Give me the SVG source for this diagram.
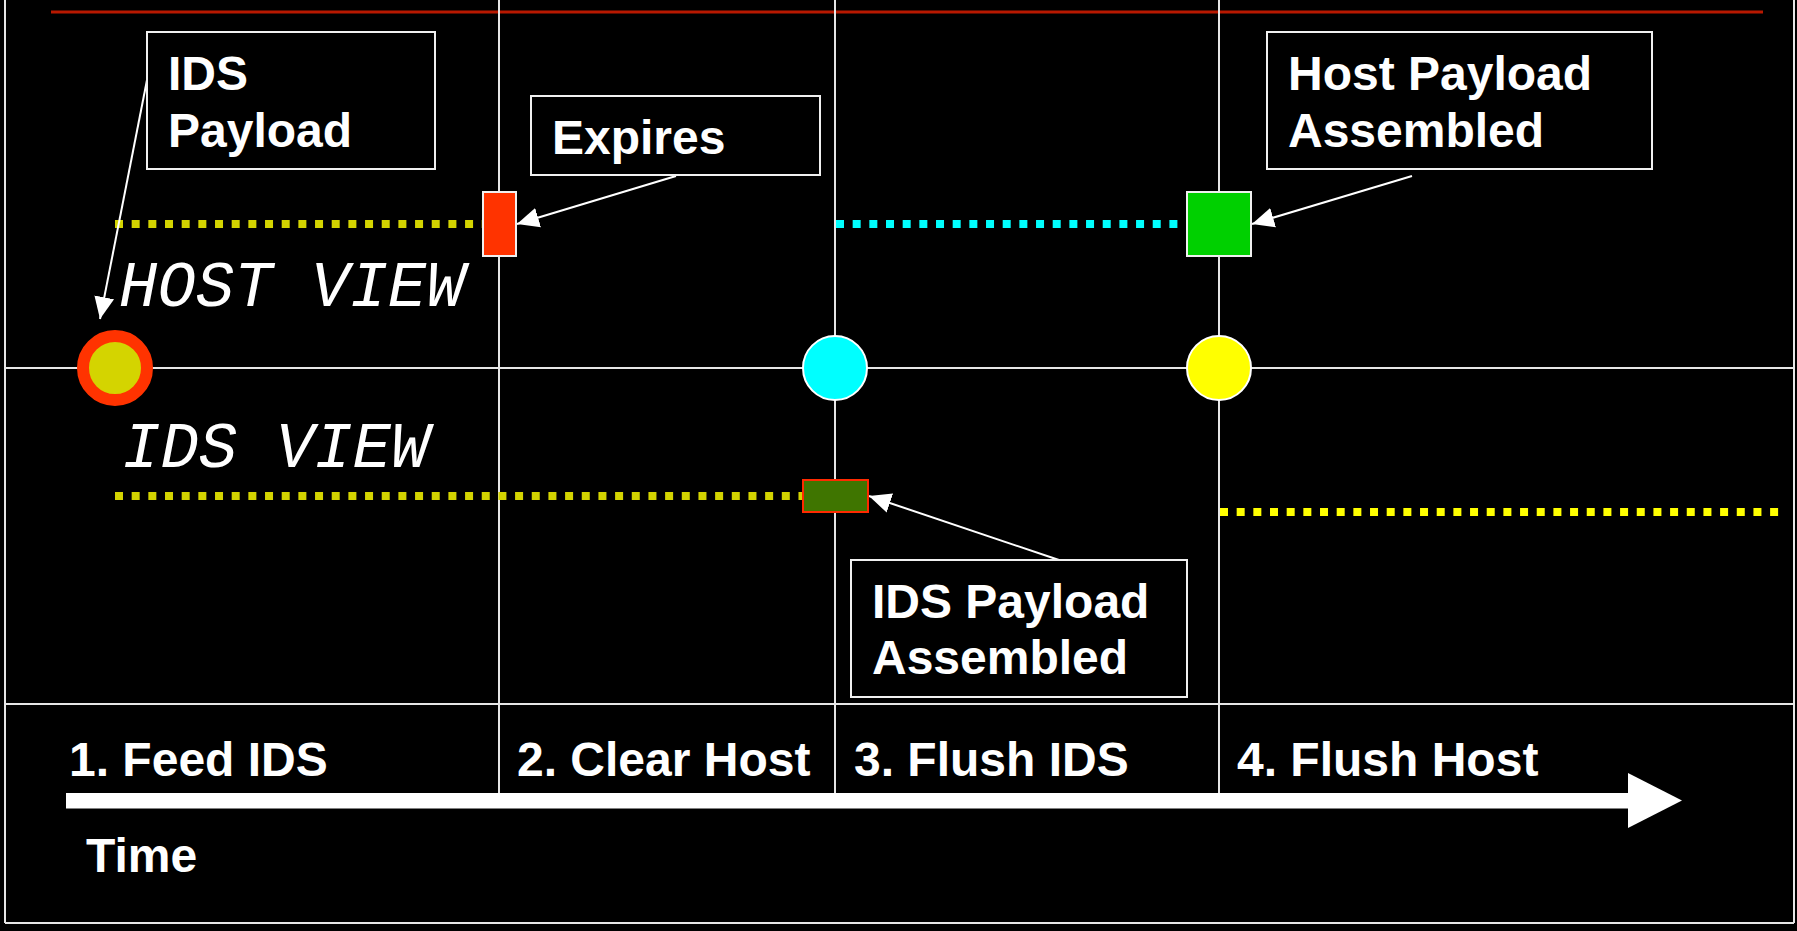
<svg xmlns="http://www.w3.org/2000/svg" width="1797" height="931" viewBox="0 0 1797 931">
  <style>
    .grid { stroke: #e6e6e6; stroke-width: 2; fill: none; }
    .box { fill: #000; stroke: #f0f0f0; stroke-width: 2; }
    .lbl { font-family: "Liberation Sans", Arial, sans-serif; font-weight: bold; font-size: 48px; fill: #fff; }
    .view { font-family: "Liberation Mono", "Courier New", monospace; font-style: italic; font-size: 64px; fill: #fff; }
    .dots { fill: none; stroke-width: 8; stroke-dasharray: 8 8.67; }
    .conn { stroke: #fff; stroke-width: 2; fill: none; marker-end: url(#ah); }
  </style>
  <defs>
    <marker id="ah" markerUnits="userSpaceOnUse" markerWidth="24" markerHeight="22" refX="22" refY="11" orient="auto" viewBox="0 0 24 22">
      <path d="M0,1 L22,11 L0,21 Z" fill="#fff"/>
    </marker>
  </defs>
  <rect x="0" y="0" width="1797" height="931" fill="#000"/>

  <g id="frame">
    <line class="grid" x1="5" y1="0" x2="5" y2="923"/>
    <line class="grid" x1="1794" y1="0" x2="1794" y2="923"/>
    <line class="grid" x1="5" y1="923" x2="1794" y2="923"/>
    <line x1="51" y1="12" x2="1763" y2="12" stroke="#b81800" stroke-width="3"/>
    <line class="grid" x1="5" y1="368" x2="1794" y2="368"/>
    <line class="grid" x1="5" y1="704" x2="1794" y2="704"/>
    <line class="grid" x1="499" y1="0" x2="499" y2="794"/>
    <line class="grid" x1="835" y1="0" x2="835" y2="794"/>
    <line class="grid" x1="1219" y1="0" x2="1219" y2="794"/>
  </g>

  <g id="timelines">
    <line class="dots" x1="115" y1="224" x2="483" y2="224" stroke="#d4d400"/>
    <line class="dots" x1="836" y1="224" x2="1187" y2="224" stroke="#00ffff"/>
    <line class="dots" x1="115" y1="496" x2="803" y2="496" stroke="#d4d400"/>
    <line class="dots" x1="1220" y1="512" x2="1780" y2="512" stroke="#ffff00"/>
  </g>

  <g id="view-labels">
    <text class="view" x="119" y="306">HOST VIEW</text>
    <text class="view" x="122" y="467">IDS VIEW</text>
  </g>

  <g id="connectors">
    <line class="conn" x1="147" y1="80" x2="100" y2="319"/>
    <line class="conn" x1="676" y1="176" x2="517" y2="224"/>
    <line class="conn" x1="1412" y1="176" x2="1252" y2="224"/>
    <line class="conn" x1="1059" y1="560" x2="869" y2="496"/>
  </g>

  <g id="ids-start">
    <circle cx="115" cy="368" r="32" fill="#d4d400" stroke="#ff3300" stroke-width="12"/>
  </g>
  <g id="ids-flush-point">
    <circle cx="835" cy="368" r="32" fill="#00ffff" stroke="#fff" stroke-width="2"/>
  </g>
  <g id="host-flush-point">
    <circle cx="1219" cy="368" r="32" fill="#ffff00" stroke="#fff" stroke-width="2"/>
  </g>
  <g id="expire-marker">
    <rect x="483" y="192" width="33" height="64" fill="#ff3300" stroke="#f0f0f0" stroke-width="2"/>
  </g>
  <g id="host-assembled-marker">
    <rect x="1187" y="192" width="64" height="64" fill="#00d000" stroke="#f0f0f0" stroke-width="2"/>
  </g>
  <g id="ids-assembled-marker">
    <rect x="803" y="480" width="65" height="32" fill="#3f7500" stroke="#ff2a00" stroke-width="2"/>
  </g>

  <g id="ids-payload">
    <rect class="box" x="147" y="32" width="288" height="137"/>
    <text class="lbl" x="168" y="90">IDS</text>
    <text class="lbl" x="168" y="147">Payload</text>
  </g>
  <g id="expires">
    <rect class="box" x="531" y="96" width="289" height="79"/>
    <text class="lbl" x="552" y="154">Expires</text>
  </g>
  <g id="host-payload-assembled">
    <rect class="box" x="1267" y="32" width="385" height="137"/>
    <text class="lbl" x="1288" y="90">Host Payload</text>
    <text class="lbl" x="1288" y="147">Assembled</text>
  </g>
  <g id="ids-payload-assembled">
    <rect class="box" x="851" y="560" width="336" height="137"/>
    <text class="lbl" x="872" y="618">IDS Payload</text>
    <text class="lbl" x="872" y="674">Assembled</text>
  </g>

  <g id="time-axis">
    <rect x="66" y="793" width="1563" height="15.5" fill="#fff"/>
    <polygon points="1628,773 1682,800.5 1628,828" fill="#fff"/>
    <text class="lbl" x="69" y="776">1. Feed IDS</text>
    <text class="lbl" x="517" y="776">2. Clear Host</text>
    <text class="lbl" x="854" y="776">3. Flush IDS</text>
    <text class="lbl" x="1237" y="776">4. Flush Host</text>
    <text class="lbl" x="86" y="872">Time</text>
  </g>
</svg>
